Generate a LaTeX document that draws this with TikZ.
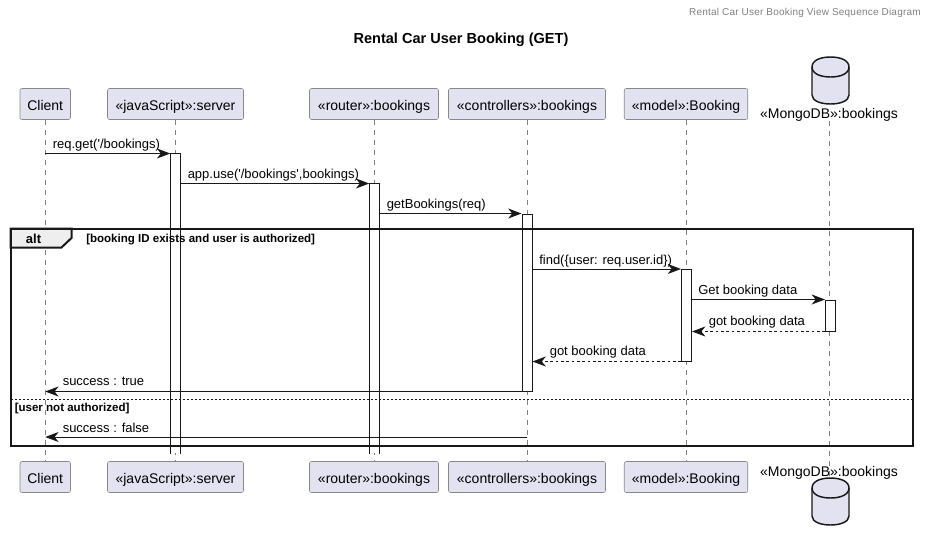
\documentclass[tikz,border=0pt]{standalone}
\usepackage{fontspec}
\setmainfont{Liberation Sans}
\usepackage{xcolor}
\usetikzlibrary{arrows.meta}
\definecolor{partfill}{HTML}{E2E2F0}
\definecolor{partline}{HTML}{888888}
\definecolor{inkdark}{HTML}{181818}
\definecolor{tabfill}{HTML}{EEEEEE}
\begin{document}
\begin{tikzpicture}[
  x=0.75pt, y=-0.75pt,
  partbox/.style={draw=partline, fill=partfill, rounded corners=1.5pt, minimum height=23.25pt, inner sep=0pt, text height=11pt, text depth=1pt, font=\fontsize{10.5}{12}\selectfont},
  dbcan/.style={draw=inkdark, line width=1.1pt, fill=partfill},
  dblab/.style={inner sep=0pt, text height=8pt, text depth=2pt, font=\fontsize{10.5}{12}\selectfont},
  lifeline/.style={draw=gray, line width=0.6pt, dash pattern=on 3.75pt off 3.75pt},
  barbox/.style={fill=white, draw=inkdark, line width=0.75pt, minimum width=7.5pt, inner sep=0pt},
  openbar/.style={fill=white, minimum width=7.5pt, inner sep=0pt},
  msg/.style={draw=inkdark, line width=0.75pt, -{Stealth[length=10pt, width=7.5pt, inset=3pt]}},
  ret/.style={msg, dash pattern=on 2pt off 2pt},
  msglab/.style={anchor=base west, inner sep=0pt, font=\fontsize{9.75}{12}\selectfont},
  guard/.style={inner sep=0pt, font=\fontsize{8.65}{10}\selectfont\bfseries},
]
  \def\px{0.75pt} % one reference pixel
  \useasboundingbox (0,0) rectangle (928,540);

  % Header and title
  \node[anchor=base east, inner sep=0pt, text=gray, font=\fontsize{7.5}{9}\selectfont\addfontfeatures{LetterSpace=2.2}] (header) at (921,15) {Rental Car User Booking View Sequence Diagram};
  \node[inner sep=0pt, font=\fontsize{10.9}{12}\selectfont\bfseries] (title) at (461,39.5) {Rental Car User Booking (GET)};

  % Participants, top and bottom
  \foreach \nm/\lx/\bw/\txt in {client/45.25/50.5/Client, srv/175.5/136/«javaScript»:server, rtr/374/129/«router»:bookings, ctrl/527/157/«controllers»:bookings, model/686/123.5/«model»:Booking}{
    \node[partbox, minimum width=\bw*\px] (\nm top) at (\lx,104) {\txt};
    \node[partbox, minimum width=\bw*\px] (\nm bot) at (\lx,477) {\txt};
    \draw[lifeline] (\nm top.south) -- (\nm bot.north);
  }

  % MongoDB participant
  \node[dblab] (dbtoplab) at (829,114.5) {«MongoDB»:bookings};
  \node[dblab] (dbbotlab) at (829,472.5) {«MongoDB»:bookings};
  \coordinate (dbend) at (829,478);
  \draw[lifeline] (dbtoplab.south) -- (dbend);
  \foreach \yc in {57,478}{
    \begin{scope}[shift={(812,\yc)}]
      \draw[dbcan] (0,10) .. controls (0,3) and (9,0) .. (18.5,0) .. controls (28,0) and (37,3) .. (37,10) -- (37,38) .. controls (37,44) and (28,47) .. (18.5,47) .. controls (9,47) and (0,44) .. (0,38) -- cycle;
      \draw[dbcan, fill=none] (0,10) .. controls (0,17) and (9,20) .. (18.5,20) .. controls (28,20) and (37,17) .. (37,10);
    \end{scope}
  }

  % Activation bars
  \node[openbar, minimum height=299.5*\px, anchor=north] (srvbar) at (175.5,153.5) {};
  \draw[inkdark, line width=0.75pt] (srvbar.south west) -- (srvbar.north west) -- (srvbar.north east) -- (srvbar.south east);
  \node[openbar, minimum height=269.5*\px, anchor=north] (rtrbar) at (374.5,183.5) {};
  \draw[inkdark, line width=0.75pt] (rtrbar.south west) -- (rtrbar.north west) -- (rtrbar.north east) -- (rtrbar.south east);
  \node[barbox, minimum height=177*\px, anchor=north] (ctrlbar) at (527,213.5) {};
  \node[barbox, minimum height=91.5*\px, anchor=north] (modelbar) at (686.5,269) {};
  \node[barbox, minimum height=31*\px, anchor=north] (dbbar) at (830.5,299.5) {};

  % alt frame
  \draw[inkdark, line width=1.5pt, fill=tabfill] (10.5,228.5) -- (71.5,228.5) -- (71.5,238) -- (61.5,247.5) -- (10.5,247.5) -- cycle;
  \draw[inkdark, line width=1.5pt] (10.5,228.5) rectangle (913,445.5);
  \draw[inkdark, line width=0.6pt, dash pattern=on 1.5pt off 1.5pt] (10.5,399.5) -- (913,399.5);
  \node[inner sep=0pt, font=\fontsize{9.75}{12}\selectfont\bfseries] (alt) at (33.5,239) {alt};
  \node[guard, anchor=west] (guardone) at (86,239.5) {[booking ID exists and user is authorized]};
  \node[guard, anchor=west] (guardtwo) at (14.5,408.5) {[user not authorized]};

  % Messages
  \draw[msg] (clienttop |- srvbar.north) -- (srvbar.north west);
  \node[msglab] (msgone) at (52.5,148.5) {req.get(\textquotesingle/bookings)};
  \draw[msg] (srvbar.north east |- rtrbar.north) -- (rtrbar.north west);
  \node[msglab] (msgtwo) at (187.5,178.5) {app.use(\textquotesingle/bookings\textquotesingle,bookings)};
  \draw[msg] (rtrbar.north east |- ctrlbar.north) -- (ctrlbar.north west);
  \node[msglab] (msgthree) at (386.5,208.5) {getBookings(req)};
  \draw[msg] (ctrlbar.north east |- modelbar.north) -- (modelbar.north west);
  \node[msglab] (msgfour) at (539,264) {find(\{user: req.user.id\})};
  \draw[msg] (modelbar.east |- dbbar.north) -- (dbbar.north west);
  \node[msglab] (msgfive) at (698,294.5) {Get booking data};
  \draw[ret] (dbbar.south west) -- (modelbar.east |- dbbar.south);
  \node[msglab] (msgsix) at (708.5,325.5) {got booking data};
  \draw[ret] (modelbar.south west) -- (ctrlbar.east |- modelbar.south);
  \node[msglab] (msgseven) at (549.5,355.5) {got booking data};
  \draw[msg] (ctrlbar.south west) -- (clienttop |- ctrlbar.south);
  \node[msglab] (msgeight) at (62.5,385.5) {success : true};
  \coordinate (falsey) at (0,437);
  \draw[msg] (ctrltop |- falsey) -- (clienttop |- falsey);
  \node[msglab] (msgnine) at (62.5,432) {success : false};
\end{tikzpicture}
\end{document}
